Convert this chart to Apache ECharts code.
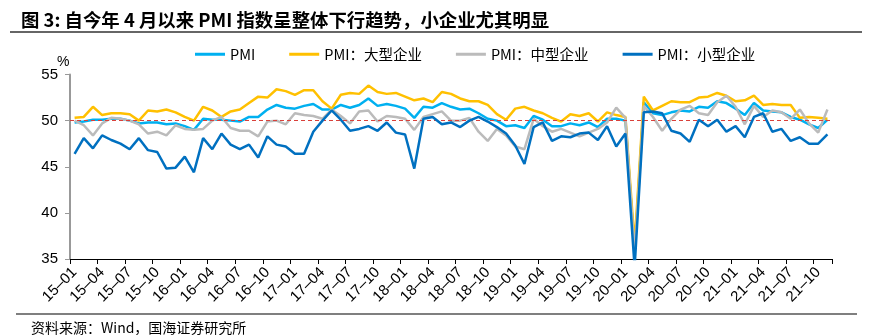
<!DOCTYPE html>
<html><head><meta charset="utf-8">
<script src="https://cdn.jsdelivr.net/npm/echarts@6/dist/echarts.min.js"></script>
<style>html,body{margin:0;padding:0;background:#fff}#c{width:879px;height:335px}</style>
</head><body><div id="c"></div>
<script>
const months = [
'15–01','15–02','15–03','15–04','15–05','15–06','15–07','15–08','15–09','15–10','15–11','15–12',
'16–01','16–02','16–03','16–04','16–05','16–06','16–07','16–08','16–09','16–10','16–11','16–12',
'17–01','17–02','17–03','17–04','17–05','17–06','17–07','17–08','17–09','17–10','17–11','17–12',
'18–01','18–02','18–03','18–04','18–05','18–06','18–07','18–08','18–09','18–10','18–11','18–12',
'19–01','19–02','19–03','19–04','19–05','19–06','19–07','19–08','19–09','19–10','19–11','19–12',
'20–01','20–02','20–03','20–04','20–05','20–06','20–07','20–08','20–09','20–10','20–11','20–12',
'21–01','21–02','21–03','21–04','21–05','21–06','21–07','21–08','21–09','21–10','21–11'];

const pmi = [
49.8,49.9,50.1,50.1,50.2,50.2,50.0,49.7,49.8,49.8,49.6,49.7,
49.4,49.0,50.2,50.1,50.1,50.0,49.9,50.4,50.4,51.2,51.7,51.4,
51.3,51.6,51.8,51.2,51.2,51.7,51.4,51.7,52.4,51.6,51.8,51.6,
51.3,50.3,51.5,51.4,51.9,51.5,51.2,51.3,50.8,50.2,50.0,49.4,
49.5,49.2,50.5,50.1,49.4,49.4,49.7,49.5,49.8,49.3,50.2,50.2,
50.0,35.7,52.0,50.8,50.6,50.9,51.1,51.0,51.5,51.4,52.1,51.9,
51.3,50.6,51.9,51.1,51.0,50.9,50.4,50.1,49.6,49.2,50.1];

const large = [
50.3,50.4,51.5,50.6,50.8,50.8,50.7,50.0,51.1,51.0,51.2,50.9,
50.4,50.0,51.5,51.1,50.4,51.0,51.2,51.9,52.6,52.5,53.4,53.2,
52.8,53.3,53.3,52.1,51.3,52.8,53.0,52.9,53.8,53.1,52.9,53.0,
52.6,52.2,52.4,52.0,53.1,52.9,52.4,52.1,52.1,51.7,50.7,50.1,
51.3,51.5,51.1,50.8,50.3,49.9,50.7,50.5,50.8,49.9,50.9,50.6,
50.4,36.6,52.6,51.1,51.6,52.1,52.0,52.0,52.5,52.6,53.0,52.7,
52.1,52.2,52.7,51.7,51.8,51.7,51.7,50.3,50.4,50.3,50.2];

const medium = [
50.0,49.5,48.4,49.7,50.3,50.2,50.0,49.6,48.6,48.8,48.4,49.5,
49.1,49.0,49.1,50.0,50.4,49.2,48.9,48.9,48.3,49.9,50.0,49.6,
50.8,50.6,50.5,50.2,51.2,50.5,49.7,51.0,51.1,49.9,50.5,50.4,
50.2,49.0,50.4,50.7,51.0,50.0,50.0,50.3,48.8,47.8,49.1,48.4,
47.2,46.9,50.2,49.4,48.8,49.1,48.7,48.3,48.7,49.1,49.8,51.4,
50.3,35.5,51.6,50.4,48.9,50.2,51.2,51.6,50.8,50.6,52.0,52.7,
51.5,49.6,51.6,50.4,51.1,50.9,50.2,51.2,49.7,48.7,51.2];

const small = [
46.4,48.1,47.0,48.4,47.9,47.5,46.9,48.1,46.8,46.6,44.8,44.9,
46.1,44.4,48.1,46.9,48.6,47.4,46.9,47.4,46.0,48.3,47.4,47.2,
46.4,46.4,48.8,50.0,51.1,50.1,48.9,49.1,49.4,48.9,49.8,48.7,
48.5,44.8,50.2,50.4,49.6,49.8,49.3,50.0,50.4,49.9,49.3,48.6,
47.3,45.3,49.3,49.8,47.8,48.3,48.2,48.6,48.7,47.9,49.4,47.2,
48.6,34.1,50.9,51.0,50.8,48.9,48.6,47.7,50.1,49.4,50.1,48.8,
49.4,48.2,50.4,50.8,48.8,49.1,47.8,48.2,47.5,47.5,48.5];

const seriesNames = ['PMI','PMI：大型企业','PMI：中型企业','PMI：小型企业'];
const seriesColors = ['#00B0F0','#FFC000','#BBBBBB','#0070C0'];
const seriesData = [pmi, large, medium, small];

const chart = echarts.init(document.getElementById('c'), null, {renderer:'canvas'});
const cjk = '"Noto Sans CJK SC", sans-serif';
const latin = '"Liberation Sans", Arial, sans-serif';

const series = seriesNames.map((n,k)=>({
  name:n, type:'line', data:seriesData[k], showSymbol:false, symbol:'none',
  lineStyle:{width:2.5, color:seriesColors[k]}, itemStyle:{color:seriesColors[k]},
  clip:true, animation:false, z:2+k
}));
series[0].markLine = {
  silent:true, symbol:'none', animation:false,
  label:{show:false},
  lineStyle:{type:[4,3], color:'#D9403A', width:1},
  data:[{yAxis:50}]
};

chart.setOption({
  animation:false,
  title:[
    {text:'图 3: 自今年 4 月以来 PMI 指数呈整体下行趋势，小企业尤其明显', left:16, top:6,
     textStyle:{fontFamily:cjk, fontSize:18.4, fontWeight:'bold', color:'#000'}},
    {text:'资料来源：Wind，国海证券研究所', left:26, top:316,
     textStyle:{fontFamily:cjk, fontSize:14, fontWeight:'normal', color:'#000'}}
  ],
  legend:{
    data:seriesNames, left:190, top:42, icon:'rect', itemWidth:30, itemHeight:3, itemGap:34,
    textStyle:{fontFamily:cjk, fontSize:14.5, color:'#000'}
  },
  grid:{left:70, right:47, top:74.5, bottom:76},
  xAxis:{
    type:'category', data:months, boundaryGap:true,
    axisLine:{lineStyle:{color:'#000', width:1}},
    axisTick:{show:true, interval:2, length:5, lineStyle:{color:'#000'}},
    axisLabel:{interval:2, rotate:45, fontFamily:latin, fontSize:15, color:'#000', margin:11},
    splitLine:{show:false}
  },
  yAxis:{
    type:'value', min:35, max:55, interval:5,
    axisLine:{show:true, lineStyle:{color:'#999', width:2}},
    axisTick:{show:true, length:5, lineStyle:{color:'#999'}},
    axisLabel:{fontFamily:latin, fontSize:15, color:'#000', margin:12},
    splitLine:{show:false}
  },
  graphic:[
    {type:'line', shape:{x1:10, y1:32, x2:862, y2:32}, style:{stroke:'#333', lineWidth:1.5}},
    {type:'line', shape:{x1:16, y1:314, x2:857, y2:314}, style:{stroke:'#555', lineWidth:1.5}},
    {type:'text', left:57, top:55, style:{text:'%', font:'14px "Liberation Sans", Arial', fill:'#000'}}
  ],
  series:series
});
</script></body></html>
